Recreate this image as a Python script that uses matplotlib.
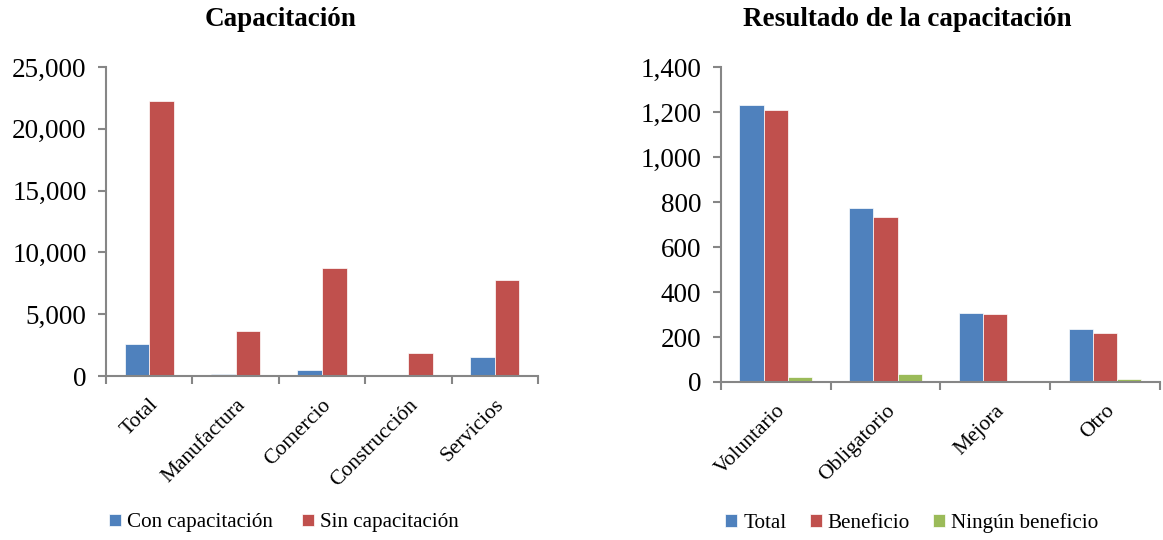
import matplotlib
matplotlib.use("Agg")
import matplotlib.pyplot as plt
import numpy as np
from matplotlib.ticker import FuncFormatter, FixedLocator, MultipleLocator

plt.rcParams['font.family'] = ['Liberation Serif', 'DejaVu Serif']

# Left chart data
cat_left = ["Total", "Manufactura", "Comercio", "Construcción", "Servicios"]
con_cap = [2550, 160, 490, 80, 1560]
sin_cap = [22220, 3640, 8760, 1840, 7770]

# Right chart data
cat_right = ["Voluntario", "Obligatorio", "Mejora", "Otro"]
res_total = [1232, 773, 309, 235]
res_benef = [1208, 736, 304, 220]
res_ningun = [24, 34, 0, 12]

BLUE = "#4F81BD"
RED = "#C0504D"
GREEN = "#9BBB59"
AXC = "#868686"

fig = plt.figure(figsize=(11.63, 5.40), dpi=100)

fmt = FuncFormatter(lambda v, p: f"{int(v):,}")

def style(ax, n, ymax, ystep):
    ax.set_xlim(-0.5, n - 0.5)
    ax.set_ylim(0, ymax)
    ax.yaxis.set_major_locator(MultipleLocator(ystep))
    ax.yaxis.set_major_formatter(fmt)
    for s in ["top", "right"]:
        ax.spines[s].set_visible(False)
    for s in ["left", "bottom"]:
        ax.spines[s].set_color(AXC)
        ax.spines[s].set_linewidth(1.5)
    ax.tick_params(axis="y", colors=AXC, length=6, width=1.5, labelsize=19.5, labelcolor="black", pad=8)
    ax.set_xticks(np.arange(n))
    ax.xaxis.set_minor_locator(FixedLocator(np.arange(n + 1) - 0.5))
    ax.tick_params(axis="x", which="major", length=0, labelsize=15.5, pad=14)
    ax.tick_params(axis="x", which="minor", length=6, width=1.5, color=AXC)

# Left
ax1 = fig.add_axes([0.0911, 0.3037, 0.3715, 0.5723])
x = np.arange(len(cat_left))
w = 0.285
ax1.bar(x - w/2, con_cap, w, color=BLUE, edgecolor="white", linewidth=0.5, label="Con capacitación")
ax1.bar(x + w/2, sin_cap, w, color=RED, edgecolor="white", linewidth=0.5, label="Sin capacitación")
style(ax1, len(cat_left), 25000, 5000)
ax1.set_xticklabels(cat_left, rotation=45, ha="right", rotation_mode="anchor")
fig.text(280/1163, 1 - 20/540, "Capacitación", fontsize=19.5, fontweight="bold", ha="center", va="center")
h1, l1 = ax1.get_legend_handles_labels()
fig.legend(h1, l1, loc="center", bbox_to_anchor=(284/1163, 1 - 523/540), ncol=2, frameon=False, fontsize=15.2,
           handlelength=0.55, handleheight=0.55, handletextpad=0.3, columnspacing=1.4)

# Right
ax2 = fig.add_axes([0.6197, 0.2926, 0.3778, 0.5828])
x2 = np.arange(len(cat_right))
w2 = 0.22
ax2.bar(x2 - w2, res_total, w2, color=BLUE, edgecolor="white", linewidth=0.5, label="Total")
ax2.bar(x2, res_benef, w2, color=RED, edgecolor="white", linewidth=0.5, label="Beneficio")
ax2.bar(x2 + w2, res_ningun, w2, color=GREEN, edgecolor="white", linewidth=0.5, label="Ningún beneficio")
style(ax2, len(cat_right), 1400, 200)
ax2.set_xticklabels(cat_right, rotation=45, ha="right", rotation_mode="anchor")
fig.text(907/1163, 1 - 20/540, "Resultado de la capacitación", fontsize=19.5, fontweight="bold", ha="center", va="center")
h2, l2 = ax2.get_legend_handles_labels()
fig.legend(h2, l2, loc="center", bbox_to_anchor=(912/1163, 1 - 523/540), ncol=3, frameon=False, fontsize=15.2,
           handlelength=0.55, handleheight=0.55, handletextpad=0.3, columnspacing=1.1)

fig.savefig("out.png", dpi=100)
